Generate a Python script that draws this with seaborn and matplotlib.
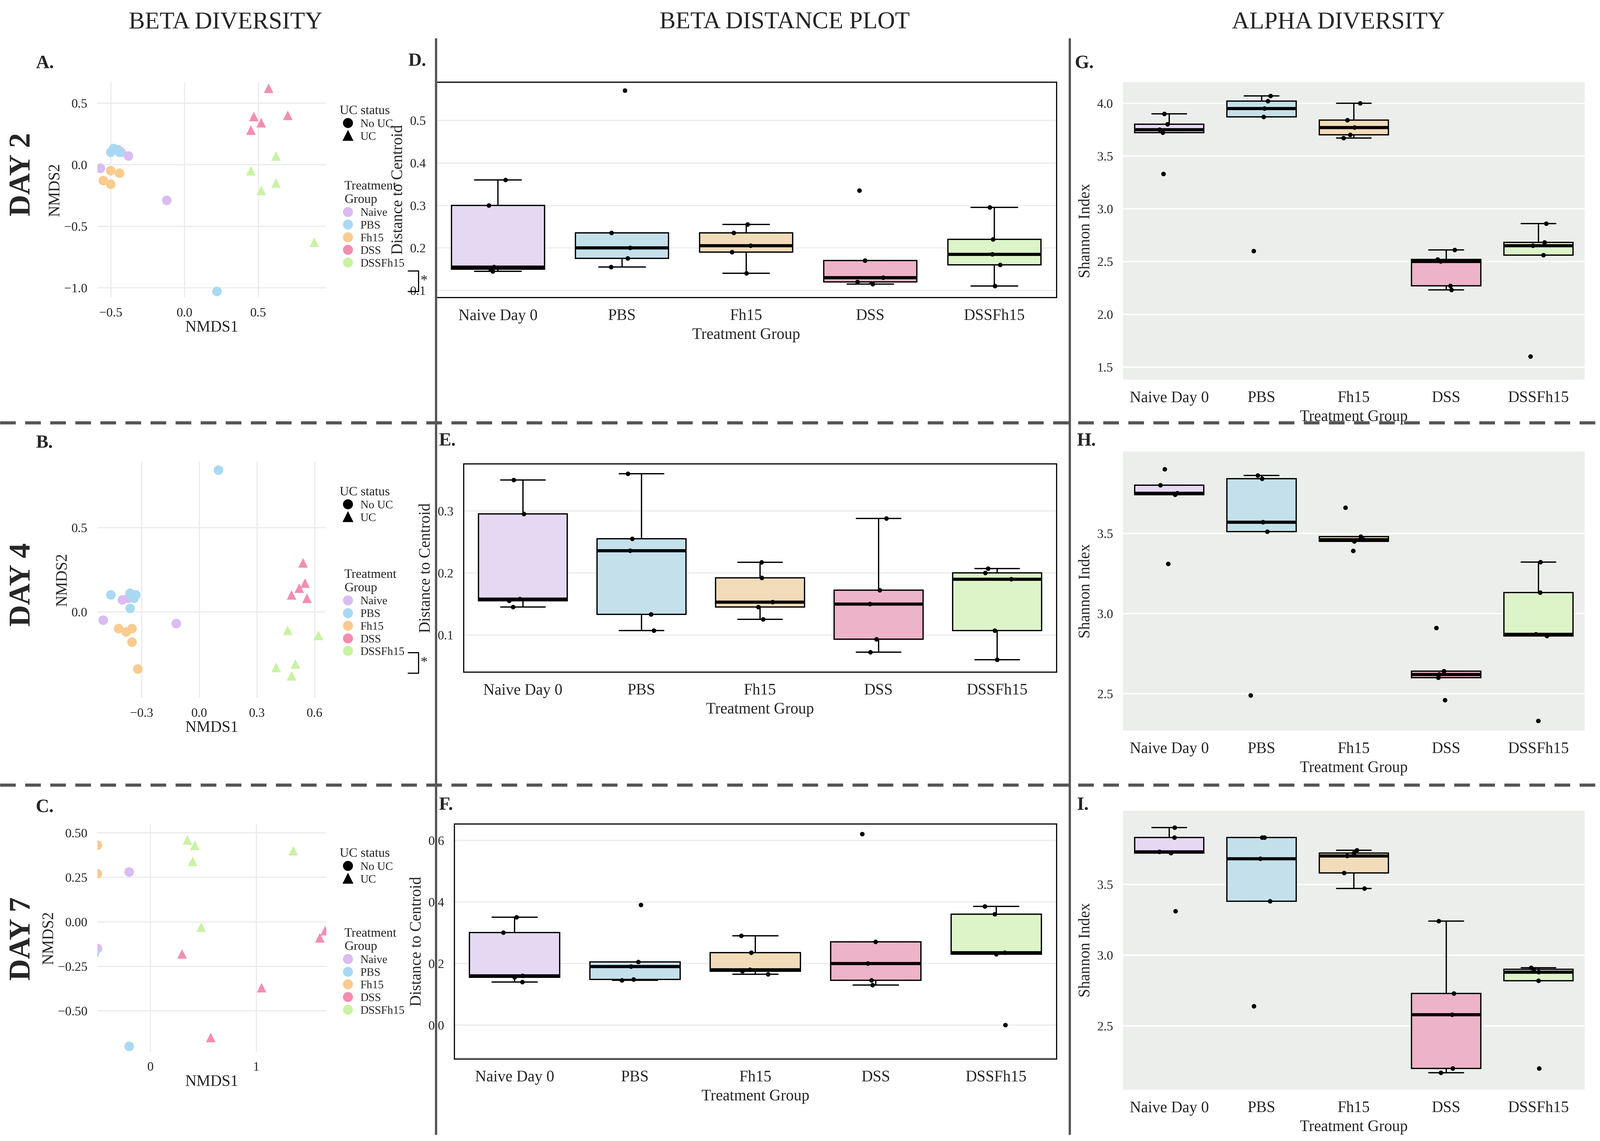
import seaborn as sns
import matplotlib.pyplot as plt
from matplotlib.lines import Line2D
import pandas as pd

sns.set_theme(style="whitegrid")
plt.rcParams['font.family'] = ['Liberation Serif', 'DejaVu Serif']

groups = ["Naive Day 0", "PBS", "Fh15", "DSS", "DSSFh15"]
legend_names = ["Naive", "PBS", "Fh15", "DSS", "DSSFh15"]
box_cols = ["#E3D3F8", "#BDE3F2", "#FADDB0", "#F7A9C6", "#DDFBC2"]
pt_cols = ["#D9BCF2", "#A9D9F2", "#F9CB8E", "#F48DB2", "#C9F2A2"]

# NMDS ordination points (x, y) per group; DSS and DSSFh15 are UC
nmds_d2 = {
    "Naive": [(-0.57, -0.03), (-0.38, 0.07), (-0.43, 0.10), (-0.12, -0.29), (-0.45, 0.12)],
    "PBS": [(-0.50, 0.10), (-0.48, 0.13), (-0.46, 0.12), (-0.44, 0.10), (0.22, -1.03)],
    "Fh15": [(-0.55, -0.13), (-0.50, -0.16), (-0.44, -0.07), (-0.50, -0.05)],
    "DSS": [(0.57, 0.62), (0.45, 0.28), (0.47, 0.39), (0.52, 0.34), (0.70, 0.40)],
    "DSSFh15": [(0.62, 0.07), (0.45, -0.05), (0.52, -0.21), (0.62, -0.15), (0.88, -0.63)],
}
nmds_d4 = {
    "Naive": [(-0.50, -0.05), (-0.40, 0.07), (-0.12, -0.07), (-0.37, 0.08)],
    "PBS": [(0.10, 0.84), (-0.46, 0.10), (-0.36, 0.11), (-0.34, 0.08), (-0.33, 0.10), (-0.36, 0.02)],
    "Fh15": [(-0.42, -0.10), (-0.38, -0.12), (-0.35, -0.10), (-0.35, -0.18), (-0.32, -0.34)],
    "DSS": [(0.54, 0.29), (0.55, 0.17), (0.52, 0.14), (0.48, 0.10), (0.56, 0.08)],
    "DSSFh15": [(0.46, -0.11), (0.62, -0.14), (0.40, -0.33), (0.50, -0.31), (0.48, -0.38)],
}
nmds_d7 = {
    "Naive": [(-0.20, 0.28), (-0.63, 0.11), (-0.60, -0.12), (-0.50, -0.15)],
    "PBS": [(-0.60, -0.10), (-0.55, -0.10), (-0.53, -0.18), (-0.58, -0.13), (-0.20, -0.70)],
    "Fh15": [(-0.50, 0.43), (-0.65, 0.23), (-0.50, 0.27)],
    "DSS": [(0.30, -0.18), (1.05, -0.37), (0.57, -0.65), (1.60, -0.09), (1.65, -0.05)],
    "DSSFh15": [(0.35, 0.46), (0.42, 0.43), (0.40, 0.34), (1.35, 0.40), (0.48, -0.03)],
}

# distance to centroid
dist_d2 = [[0.145, 0.15, 0.155, 0.30, 0.36], [0.155, 0.175, 0.20, 0.235, 0.57],
           [0.14, 0.19, 0.205, 0.235, 0.255], [0.115, 0.12, 0.13, 0.17, 0.335],
           [0.11, 0.16, 0.185, 0.22, 0.295]]
dist_d4 = [[0.145, 0.155, 0.158, 0.295, 0.35], [0.107, 0.133, 0.236, 0.255, 0.36],
           [0.125, 0.145, 0.153, 0.192, 0.217], [0.072, 0.093, 0.15, 0.172, 0.288],
           [0.06, 0.107, 0.19, 0.20, 0.207]]
dist_d7 = [[0.14, 0.155, 0.16, 0.30, 0.35], [0.145, 0.148, 0.19, 0.205, 0.39],
           [0.165, 0.175, 0.18, 0.235, 0.29], [0.13, 0.145, 0.20, 0.27, 0.62],
           [0.0, 0.23, 0.235, 0.36, 0.385]]

# Shannon index
shan_d2 = [[3.33, 3.72, 3.75, 3.80, 3.90], [2.60, 3.87, 3.95, 4.02, 4.07],
           [3.67, 3.70, 3.77, 3.84, 4.00], [2.23, 2.27, 2.50, 2.52, 2.61],
           [1.60, 2.56, 2.65, 2.68, 2.86]]
shan_d4 = [[3.31, 3.74, 3.75, 3.80, 3.90], [2.49, 3.51, 3.57, 3.84, 3.86],
           [3.39, 3.45, 3.46, 3.48, 3.66], [2.46, 2.60, 2.62, 2.64, 2.91],
           [2.33, 2.86, 2.87, 3.13, 3.32]]
shan_d7 = [[3.31, 3.72, 3.73, 3.83, 3.90], [2.64, 3.38, 3.68, 3.83, 3.83],
           [3.47, 3.58, 3.70, 3.72, 3.74], [2.17, 2.20, 2.58, 2.73, 3.24],
           [2.20, 2.82, 2.88, 2.90, 2.91]]

W, H = 1560, 1112
DPI = 475
fig = plt.figure(figsize=(15.6, 11.12), dpi=DPI)


def add_ax(x0, y0, x1, y1):
    return fig.add_axes([x0 / W, 1 - y1 / H, (x1 - x0) / W, (y1 - y0) / H])


def nmds_panel(rect, pts, xlim, ylim, xticks, yticks, bracket):
    ax = add_ax(*rect)
    rows = []
    for name, lst in pts.items():
        for x, y in lst:
            rows.append((name, x, y, "UC" if name.startswith("DSS") else "No UC"))
    df = pd.DataFrame(rows, columns=["grp", "x", "y", "uc"])
    sns.scatterplot(data=df, x="x", y="y", hue="grp", style="uc", hue_order=legend_names,
                    palette=pt_cols, markers={"No UC": "o", "UC": "^"}, s=45,
                    edgecolor="none", legend=False, ax=ax)
    ax.set_xlim(*xlim)
    ax.set_ylim(*ylim)
    ax.set_xticks(xticks)
    ax.set_yticks(yticks)
    ax.set_xlabel("NMDS1", fontsize=11, labelpad=1)
    ax.set_ylabel("NMDS2", fontsize=11, labelpad=1)
    ax.tick_params(labelsize=9, pad=1)
    ax.set_facecolor("white")
    ax.grid(color="#EBEBEB", linewidth=0.8)
    for s in ax.spines.values():
        s.set_visible(False)
    h1 = [Line2D([], [], marker=m, ls="", color="black", markersize=6) for m in ["o", "^"]]
    l1 = ax.legend(h1, ["No UC", "UC"], title="UC status", loc="upper left",
                   bbox_to_anchor=(1.02, 0.92), frameon=False, fontsize=8,
                   title_fontsize=9, handletextpad=0.1, labelspacing=0.2, borderpad=0)
    ax.add_artist(l1)
    h2 = [Line2D([], [], marker="o", ls="", color=c, markersize=6) for c in pt_cols]
    ax.legend(h2, legend_names, title="Treatment\nGroup", loc="upper left",
              bbox_to_anchor=(1.02, 0.57), frameon=False, fontsize=8, title_fontsize=9,
              handletextpad=0.1, labelspacing=0.2, borderpad=0)
    if bracket:
        bx, by0, by1 = bracket
        fig.add_artist(Line2D([bx / W, (bx + 10) / W, (bx + 10) / W, bx / W],
                              [1 - by0 / H, 1 - by0 / H, 1 - by1 / H, 1 - by1 / H],
                              color="black", lw=0.8))
        fig.text((bx + 12) / W, 1 - (by0 + by1) / 2 / H, "*", fontsize=10, va="center")
    return ax


def box_panel(rect, vals, ylim, yticks, ylabel, alpha_style):
    ax = add_ax(*rect)
    df = pd.DataFrame([(g, v) for g, vs in zip(groups, vals) for v in vs], columns=["g", "v"])
    if alpha_style:
        ax.set_facecolor("#EBEEEB")
        ax.grid(color="white", linewidth=1.0)
        for s in ax.spines.values():
            s.set_visible(False)
    else:
        ax.set_facecolor("white")
        ax.grid(color="#EBEBEB", linewidth=0.8)
        for s in ax.spines.values():
            s.set_color("black")
            s.set_linewidth(0.8)
    sns.boxplot(data=df, x="g", y="v", hue="g", order=groups, hue_order=groups,
                palette=box_cols, linecolor="black", linewidth=0.9, width=0.75,
                fliersize=0, whis=1.5, medianprops={"linewidth": 2.2}, legend=False, ax=ax)
    sns.stripplot(data=df, x="g", y="v", order=groups, color="black", size=3.2,
                  jitter=0.12, ax=ax)
    ax.set_ylim(*ylim)
    ax.set_yticks(yticks)
    ax.set_xlabel("Treatment Group", fontsize=11, labelpad=3)
    ax.set_ylabel(ylabel, fontsize=11, labelpad=3)
    ax.tick_params(axis="x", labelsize=11, pad=2)
    ax.tick_params(axis="y", labelsize=9, pad=1)
    return ax


nmds_panel((95, 80, 318, 290), nmds_d2, (-0.59, 0.96), (-1.08, 0.67),
           [-0.5, 0.0, 0.5], [0.5, 0.0, -0.5, -1.0], (398, 264, 284))
nmds_panel((95, 450, 318, 680), nmds_d4, (-0.53, 0.66), (-0.51, 0.89),
           [-0.3, 0.0, 0.3, 0.6], [0.0, 0.5], (398, 636, 656))
nmds_panel((95, 803, 318, 1025), nmds_d7, (-0.5, 1.66), (-0.73, 0.55),
           [0, 1], [0.5, 0.25, 0.0, -0.25, -0.5], None)

box_panel((425, 80, 1030, 290), dist_d2, (0.083, 0.59), [0.1, 0.2, 0.3, 0.4, 0.5],
          "Distance to Centroid", False)
box_panel((452, 452, 1030, 655), dist_d4, (0.04, 0.376), [0.1, 0.2, 0.3],
          "Distance to Centroid", False)
box_panel((443, 803, 1030, 1032), dist_d7, (-0.11, 0.653), [0.0, 0.2, 0.4, 0.6],
          "Distance to Centroid", False)

box_panel((1095, 80, 1545, 370), shan_d2, (1.38, 4.2), [1.5, 2.0, 2.5, 3.0, 3.5, 4.0],
          "Shannon Index", True)
box_panel((1095, 440, 1545, 712), shan_d4, (2.27, 4.01), [2.5, 3.0, 3.5],
          "Shannon Index", True)
box_panel((1095, 790, 1545, 1062), shan_d7, (2.05, 4.02), [2.5, 3.0, 3.5],
          "Shannon Index", True)

# headers, panel letters, day labels
for x, t in [(220, "BETA DIVERSITY"), (765, "BETA DISTANCE PLOT"), (1305, "ALPHA DIVERSITY")]:
    fig.text(x / W, 1 - 22 / H, t, fontsize=17, ha="center", va="center")
for x, y, t in [(35, 62, "A."), (398, 60, "D."), (1048, 62, "G."),
                (35, 432, "B."), (428, 430, "E."), (1050, 430, "H."),
                (35, 787, "C."), (428, 785, "F."), (1050, 785, "I.")]:
    fig.text(x / W, 1 - y / H, t, fontsize=13, fontweight="bold", va="center")
for y, t in [(170, "DAY 2"), (570, "DAY 4"), (915, "DAY 7")]:
    fig.text(22 / W, 1 - y / H, t, fontsize=21, fontweight="bold", rotation=90,
             ha="center", va="center")

# separators
for y in [412, 765]:
    fig.add_artist(Line2D([0, 1], [1 - y / H, 1 - y / H], color="#555555", lw=2.2, ls=(0, (5, 3))))
for x in [425, 1043]:
    fig.add_artist(Line2D([x / W, x / W], [1 - 38 / H, 1 - 1105 / H], color="#555555", lw=1.6))

fig.savefig("out.png", dpi=DPI)
